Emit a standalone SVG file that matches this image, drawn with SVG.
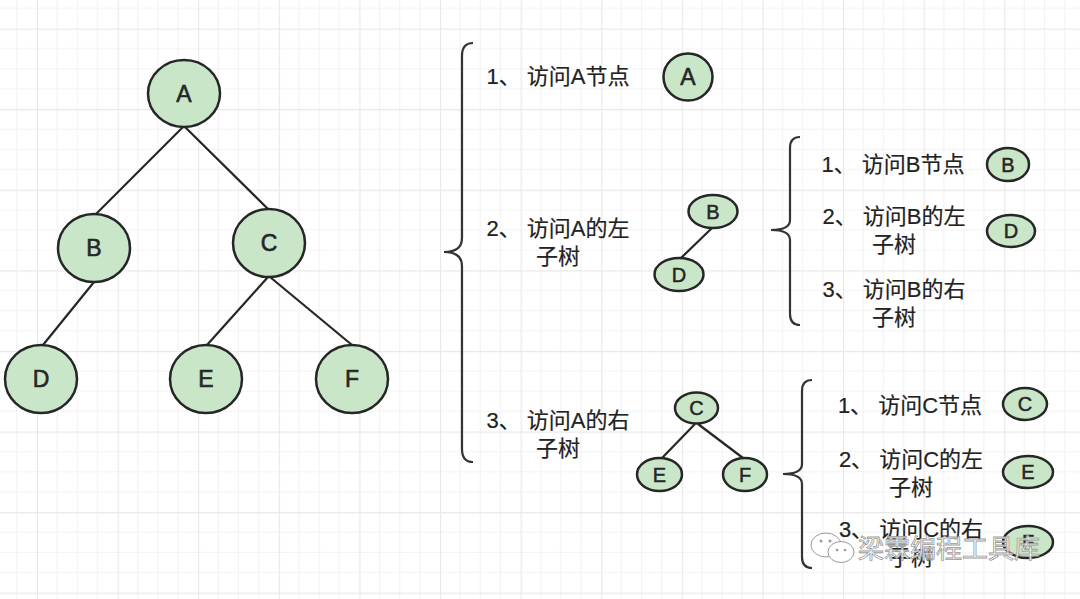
<svg xmlns="http://www.w3.org/2000/svg" width="1080" height="599" viewBox="0 0 1080 599">
<defs>
<pattern id="grid" patternUnits="userSpaceOnUse" x="37" y="28.5" width="80.6" height="80.6">
<path d="M20.15,0 V80.6 M40.3,0 V80.6 M60.45,0 V80.6 M0,20.15 H80.6 M0,40.3 H80.6 M0,60.45 H80.6" stroke="#f3f3f3" stroke-width="1.2" fill="none"/>
<path d="M0.5,0 V80.6 M0,0.5 H80.6" stroke="#e8e8e8" stroke-width="1.3" fill="none"/>
</pattern>
<style>
.n{fill:#c9e6c9;stroke:#262626;stroke-width:2.5}
.e{stroke:#262626;stroke-width:2.2;fill:none}
.br{stroke:#333;stroke-width:2.2;fill:none}
.big{font-family:"Liberation Sans","Noto Sans CJK SC",sans-serif;font-size:23px;fill:#262626;stroke:#262626;stroke-width:0.6;text-anchor:middle}
.sm{font-family:"Liberation Sans","Noto Sans CJK SC",sans-serif;font-size:20px;fill:#262626;stroke:#262626;stroke-width:0.5;text-anchor:middle}
.t{font-family:"Liberation Sans","Noto Sans CJK SC",sans-serif;font-size:22px;fill:#222;stroke:#222;stroke-width:0.2;text-anchor:middle}
.wm{font-family:"Noto Sans CJK SC",sans-serif;font-size:26px;fill:#fff;fill-opacity:0.85;stroke:#9a9a9a;stroke-width:0.8}
</style>
</defs>
<rect width="1080" height="599" fill="#ffffff"/>
<rect width="1080" height="599" fill="url(#grid)"/>

<g id="connectors">
<line class="e" x1="183" y1="127" x2="96" y2="214"/>
<line class="e" x1="185" y1="127" x2="268" y2="209"/>
<line class="e" x1="94" y1="282" x2="43" y2="345"/>
<line class="e" x1="268" y1="277" x2="207" y2="345"/>
<line class="e" x1="270" y1="277" x2="352" y2="345"/>
<line class="e" x1="712" y1="228" x2="681" y2="258"/>
<line class="e" x1="695" y1="424" x2="662" y2="458"/>
<line class="e" x1="698" y1="424" x2="743" y2="458"/>
</g>

<g id="braces">
<path class="br" d="M473,43 Q462,43 462,56 L462,238 Q462,252 444,252 Q462,252 462,266 L462,449 Q462,462 473,462"/>
<path class="br" d="M800,137 Q790,137 790,148 L790,220 Q790,230 771,230 Q790,230 790,240 L790,314 Q790,325 800,325"/>
<path class="br" d="M812,380 Q802,380 802,391 L802,464 Q802,474 783,474 Q802,474 802,484 L802,557 Q802,568 812,568"/>
</g>

<g id="node-A"><ellipse class="n" cx="184" cy="93.5" rx="36" ry="33.5"/><text class="big" x="184" y="101.5">A</text></g>
<g id="node-B"><ellipse class="n" cx="94" cy="248" rx="36" ry="34"/><text class="big" x="94" y="256">B</text></g>
<g id="node-C"><ellipse class="n" cx="269" cy="243" rx="36" ry="34"/><text class="big" x="269" y="251">C</text></g>
<g id="node-D"><ellipse class="n" cx="41" cy="379" rx="36" ry="34"/><text class="big" x="41" y="387">D</text></g>
<g id="node-E"><ellipse class="n" cx="206" cy="379" rx="36" ry="34"/><text class="big" x="206" y="387">E</text></g>
<g id="node-F"><ellipse class="n" cx="352" cy="379" rx="36" ry="34"/><text class="big" x="352" y="387">F</text></g>

<g id="step-A1"><text class="t" x="558" y="84">1、 访问A节点</text></g>
<g id="step-A2"><text class="t" x="558" y="236">2、 访问A的左</text><text class="t" x="558" y="264">子树</text></g>
<g id="step-A3"><text class="t" x="558" y="428">3、 访问A的右</text><text class="t" x="558" y="456">子树</text></g>

<g id="small-A"><ellipse class="n" cx="688" cy="77" rx="24.5" ry="23.5"/><text class="big" x="688" y="85">A</text></g>
<g id="small-B1"><ellipse class="n" cx="713" cy="211.5" rx="24.5" ry="16.5"/><text class="sm" x="713" y="218.5">B</text></g>
<g id="small-D1"><ellipse class="n" cx="679" cy="274.5" rx="24.5" ry="16.5"/><text class="sm" x="679" y="281.5">D</text></g>
<g id="small-C1"><ellipse class="n" cx="696.5" cy="408" rx="21.5" ry="15.5"/><text class="sm" x="696.5" y="415">C</text></g>
<g id="small-E1"><ellipse class="n" cx="659.5" cy="474.5" rx="22.5" ry="16.5"/><text class="sm" x="659.5" y="481.5">E</text></g>
<g id="small-F1"><ellipse class="n" cx="745" cy="474.5" rx="22" ry="16.5"/><text class="sm" x="745" y="481.5">F</text></g>

<g id="step-B1"><text class="t" x="893" y="172">1、 访问B节点</text></g>
<g id="step-B2"><text class="t" x="894" y="224">2、 访问B的左</text><text class="t" x="894" y="252">子树</text></g>
<g id="step-B3"><text class="t" x="894" y="297">3、 访问B的右</text><text class="t" x="894" y="325">子树</text></g>
<g id="small-B2"><ellipse class="n" cx="1008" cy="164.5" rx="21" ry="16.5"/><text class="sm" x="1008" y="171.5">B</text></g>
<g id="small-D2"><ellipse class="n" cx="1011" cy="231" rx="24" ry="16"/><text class="sm" x="1011" y="238">D</text></g>

<g id="step-C1"><text class="t" x="910" y="413">1、 访问C节点</text></g>
<g id="step-C2"><text class="t" x="911" y="467">2、 访问C的左</text><text class="t" x="911" y="495">子树</text></g>
<g id="step-C3"><text class="t" x="911" y="537">3、 访问C的右</text><text class="t" x="911" y="565">子树</text></g>
<g id="small-C2"><ellipse class="n" cx="1025" cy="404" rx="22" ry="16"/><text class="sm" x="1025" y="411">C</text></g>
<g id="small-E2"><ellipse class="n" cx="1028" cy="472" rx="25" ry="16"/><text class="sm" x="1028" y="479">E</text></g>
<g id="small-F2"><ellipse class="n" cx="1028" cy="542" rx="25" ry="16"/><text class="sm" x="1028" y="549">F</text></g>

<g id="watermark">
<ellipse cx="826" cy="545" rx="15" ry="12" fill="#fff" fill-opacity="0.9" stroke="#9a9a9a" stroke-width="1"/>
<ellipse cx="841" cy="552" rx="13" ry="10.5" fill="#fff" fill-opacity="0.95" stroke="#9a9a9a" stroke-width="1"/>
<circle cx="821" cy="541" r="1.5" fill="#9a9a9a"/><circle cx="830" cy="541" r="1.5" fill="#9a9a9a"/>
<circle cx="837" cy="550" r="1.3" fill="#9a9a9a"/><circle cx="845" cy="550" r="1.3" fill="#9a9a9a"/>
<text class="wm" x="858" y="558">梁霖编程工具库</text>
</g>
</svg>
